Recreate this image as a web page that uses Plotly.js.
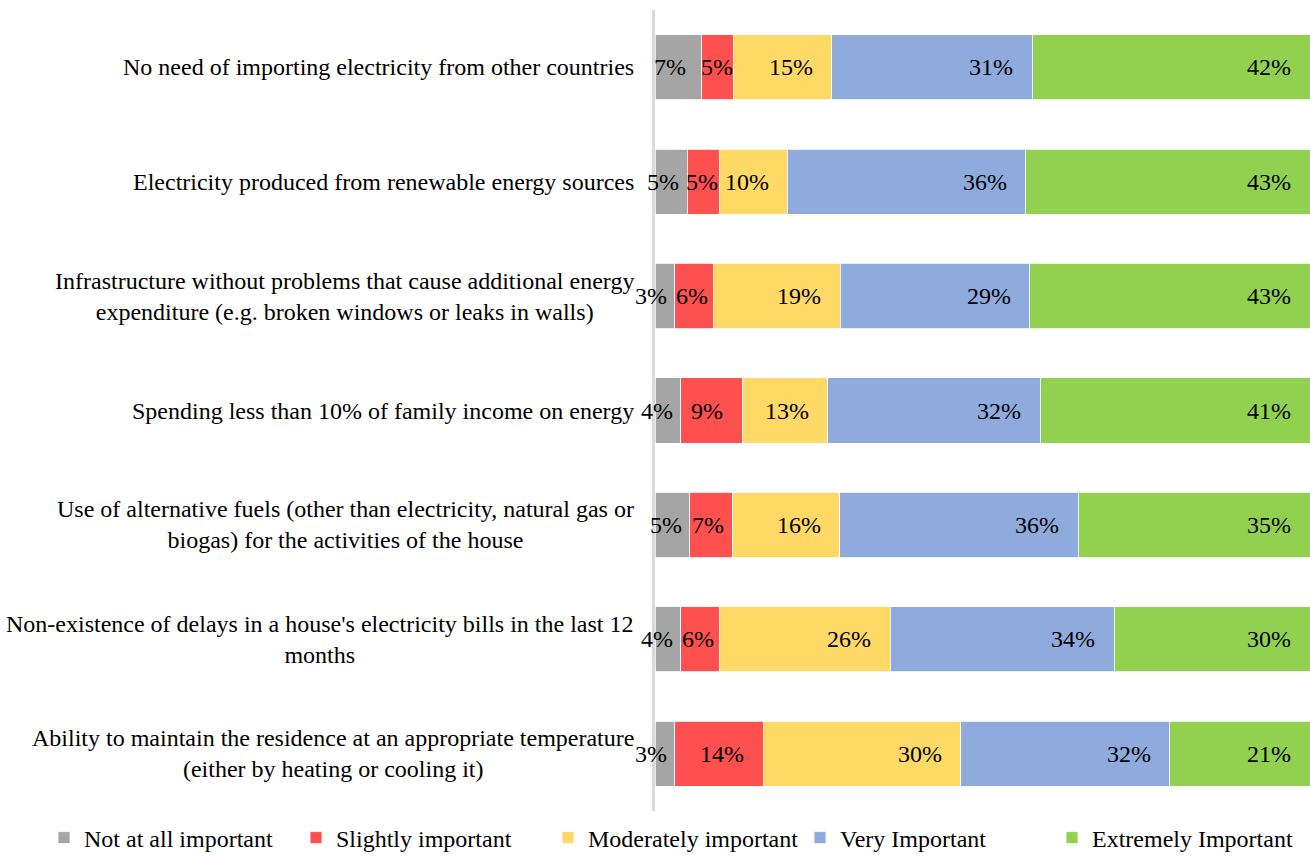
<!DOCTYPE html>
<html>
<head>
<meta charset="utf-8">
<script src="https://cdn.plot.ly/plotly-3.0.1.min.js"></script>
<style>html,body{margin:0;padding:0;background:#fff;}#chart{width:1310px;height:857px;}</style>
</head>
<body>
<div id="chart"></div>
<script>
// Categories, top to bottom
const categories = [
  "No need of importing electricity from other countries",
  "Electricity produced from renewable energy sources",
  "Infrastructure without problems that cause additional energy<br>expenditure (e.g. broken windows or leaks in walls)",
  "Spending less than 10% of family income on energy",
  "Use of alternative fuels (other than electricity, natural gas or<br>biogas) for the activities of the house",
  "Non-existence of delays in a house's electricity bills in the last 12<br>months",
  "Ability to maintain the residence at an appropriate temperature<br>(either by heating or cooling it)"
];
const seriesNames = ["Not at all important", "Slightly important", "Moderately important", "Very Important", "Extremely Important"];
const notAtAll   = [7.1, 4.9, 3.0, 3.9, 5.3, 3.9, 3.0];
const slightly   = [4.9, 4.9, 5.9, 9.4, 6.6, 5.9, 13.5];
const moderately = [15.0, 10.4, 19.4, 13.1, 16.3, 26.1, 30.2];
const very       = [30.6, 36.4, 28.9, 32.4, 36.4, 34.2, 31.9];
const extremely  = [42.4, 43.4, 42.8, 41.2, 35.4, 29.9, 21.4];
const colors = ["#A5A5A5", "#FF5050", "#FFD966", "#8FAADC", "#92D050"];

const series = [notAtAll, slightly, moderately, very, extremely];
const FONT = "Liberation Serif, Times New Roman, serif";
const W = 1310, H = 857;
const margin = {l: 655, r: 0, t: 10, b: 46, autoexpand: false};
const plotW = W - margin.l - margin.r;
const plotH = H - margin.t - margin.b;
const pxPerUnit = plotW / 100;

const traces = series.map((vals, i) => ({
  type: "bar",
  orientation: "h",
  name: seriesNames[i],
  x: vals,
  y: categories,
  marker: {color: colors[i], line: {color: "#ffffff", width: 0.8}},
  hoverinfo: "x+name"
}));

const annotations = [];
// category labels (centered multi-line, right-anchored)
categories.forEach(c => {
  annotations.push({
    xref: "paper", yref: "y", x: 0, y: c, xanchor: "right", yanchor: "middle",
    xshift: -20, text: c, showarrow: false, align: "center", borderpad: 0,
    font: {family: FONT, size: 24, color: "#000"}
  });
});
// data labels at inside end of each segment
categories.forEach((c, r) => {
  let cum = 0;
  series.forEach((vals, i) => {
    const v = vals[r];
    cum += v;
    const label = Math.round(v) + "%";
    const textPx = (label.length - 1) * 12 + 20;
    const barPx = v * pxPerUnit;
    const slack = barPx - textPx;
    let shift;
    if (i === 0) shift = slack >= 10 ? Math.min(slack, 18) : 7;
    else shift = Math.min(18, Math.max(0, slack * 0.7));
    annotations.push({
      xref: "x", yref: "y", x: cum, y: c, xanchor: "right", yanchor: "middle",
      xshift: -shift, text: label, showarrow: false, borderpad: 0,
      font: {family: FONT, size: 24, color: "#000"}
    });
  });
});

const layout = {
  width: W, height: H,
  margin: margin,
  paper_bgcolor: "#fff", plot_bgcolor: "#fff",
  barmode: "stack",
  bargap: 0.43,
  font: {family: FONT, size: 24, color: "#000"},
  xaxis: {range: [0, 100], showgrid: false, zeroline: false, showline: false, showticklabels: false, ticks: "", fixedrange: true},
  yaxis: {autorange: "reversed", type: "category", showgrid: false, zeroline: false, showline: true,
          linecolor: "#D9D9D9", linewidth: 3, showticklabels: false, ticks: "", fixedrange: true},
  showlegend: true,
  legend: {
    orientation: "h", traceorder: "normal",
    xref: "paper", yref: "paper",
    x: (44 - margin.l) / plotW, xanchor: "left",
    y: -27 / plotH, yanchor: "middle",
    entrywidth: 207, entrywidthmode: "pixels",
    font: {family: FONT, size: 24, color: "#000"},
    itemwidth: 30, itemclick: false, itemdoubleclick: false
  },
  annotations: annotations
};

Plotly.newPlot("chart", traces, layout, {displayModeBar: false, staticPlot: true});
</script>
</body>
</html>
